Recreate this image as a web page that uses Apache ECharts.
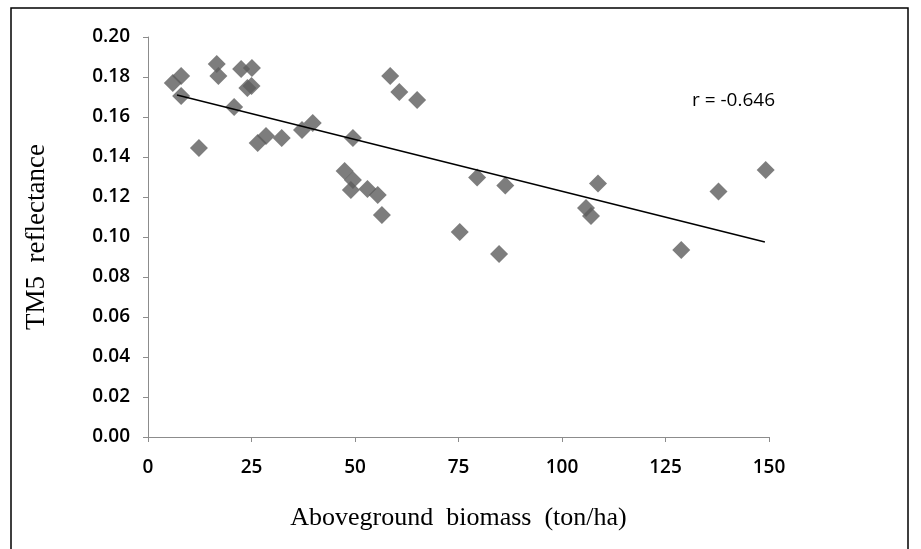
<!DOCTYPE html>
<html>
<head>
<meta charset="utf-8">
<script src="https://cdn.jsdelivr.net/npm/echarts@6/dist/echarts.min.js"></script>
<style>
html,body{margin:0;padding:0;background:#fff;}
#chart{width:921px;height:549px;}
</style>
</head>
<body>
<div id="chart"></div>
<script>
// Aboveground biomass (ton/ha)
const biomass = [6, 8, 8, 12.3, 16.6, 17, 20.8, 22.5, 25.1, 24, 25, 26.5, 28.5, 32.3, 37.2, 39.8, 49.5,
  58.5, 60.7, 65, 47.5, 49.5, 49, 53, 55.5, 56.5, 79.5, 86.3, 75.3, 84.8, 108.7, 105.8, 107, 137.8, 149.2, 128.8];
// TM5 reflectance
const reflectance = [0.177, 0.1805, 0.1705, 0.1445, 0.1865, 0.1805, 0.165, 0.184, 0.1845, 0.1745, 0.1755, 0.147, 0.1505, 0.1495, 0.1535, 0.157, 0.1495,
  0.1805, 0.1725, 0.1685, 0.133, 0.1285, 0.1235, 0.124, 0.121, 0.111, 0.1297, 0.1257, 0.1025, 0.0915, 0.1267, 0.1145, 0.1105, 0.1227, 0.1335, 0.0935];
// Linear trend line endpoints
const trendX = [7, 149];
const trendY = [0.171, 0.0975];
const xTicks = [0, 25, 50, 75, 100, 125, 150];
const yTicks = [0, 0.02, 0.04, 0.06, 0.08, 0.10, 0.12, 0.14, 0.16, 0.18, 0.20];
const rLabel = 'r = -0.646';

const chart = echarts.init(document.getElementById('chart'), null, {renderer: 'canvas'});
const pts = biomass.map((x, i) => [x, reflectance[i]]);
const trend = trendX.map((x, i) => [x, trendY[i]]);

const tickFont = {fontFamily: '"Open Sans", "Liberation Sans", sans-serif', fontSize: 19, fontWeight: 600, color: '#000'};

chart.setOption({
  animation: false,
  backgroundColor: '#fff',
  grid: {left: 148, right: 152, top: 37, bottom: 112, containLabel: false},
  xAxis: {
    type: 'value', min: xTicks[0], max: xTicks[xTicks.length - 1], interval: 25,
    axisLine: {lineStyle: {color: '#8c8c8c', width: 1}},
    axisTick: {show: true, inside: false, length: 5, lineStyle: {color: '#8c8c8c'}},
    splitLine: {show: false},
    axisLabel: Object.assign({margin: 21}, tickFont),
    name: 'Aboveground  biomass  (ton/ha)',
    nameLocation: 'middle', nameGap: 68,
    nameTextStyle: {fontFamily: '"Liberation Serif", "Times New Roman", serif', fontSize: 26, color: '#000'}
  },
  yAxis: {
    type: 'value', min: yTicks[0], max: yTicks[yTicks.length - 1], interval: 0.02,
    axisLine: {show: true, lineStyle: {color: '#8c8c8c', width: 1}},
    axisTick: {show: true, inside: false, length: 5, lineStyle: {color: '#8c8c8c'}},
    splitLine: {show: false},
    axisLabel: Object.assign({margin: 18, formatter: v => v.toFixed(2)}, tickFont),
    name: 'TM5  reflectance',
    nameLocation: 'middle', nameGap: 98, nameRotate: 90,
    nameTextStyle: {fontFamily: '"Liberation Serif", "Times New Roman", serif', fontSize: 27, color: '#000'}
  },
  series: [
    {
      type: 'scatter', data: pts, symbol: 'diamond', symbolSize: 18,
      itemStyle: {color: '#5c5c5c'}, z: 3
    },
    {
      type: 'line', data: trend, symbol: 'none', silent: true,
      lineStyle: {color: '#000', width: 1.5}, z: 4
    }
  ],
  graphic: [
    {type: 'rect', shape: {x: 11, y: 8, width: 897, height: 560}, style: {fill: null, stroke: '#000', lineWidth: 1.5}, silent: true},
    {type: 'text', left: 692, top: 91, style: {text: rLabel, font: '19px "Open Sans", "Liberation Sans", sans-serif', fill: '#000'}}
  ]
});
</script>
</body>
</html>
